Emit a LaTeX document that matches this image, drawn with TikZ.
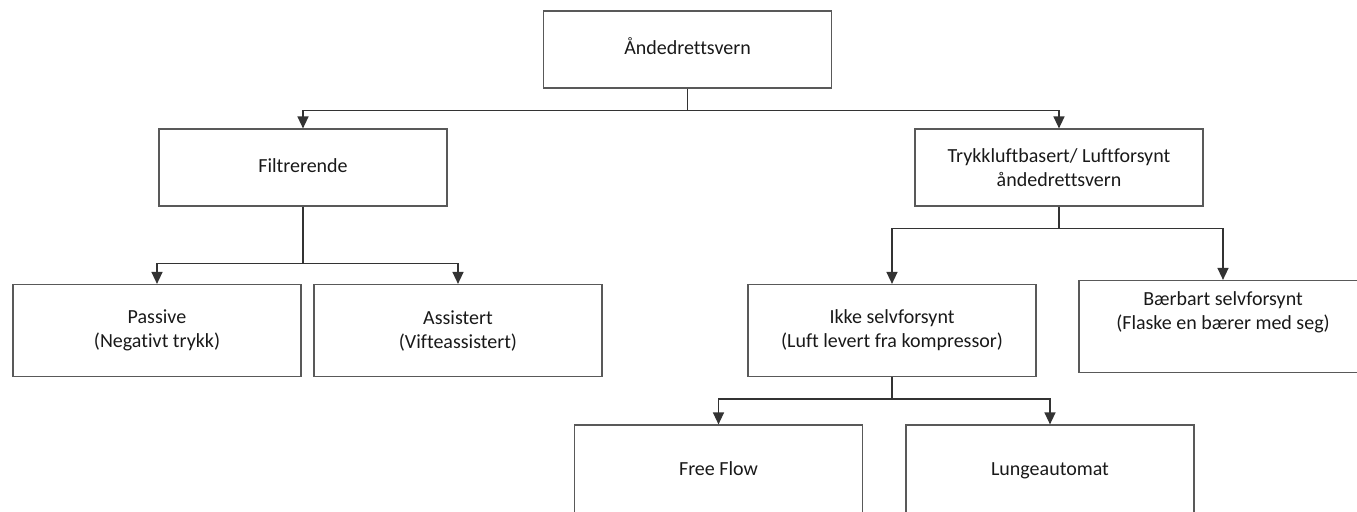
\documentclass[tikz,border=0pt]{standalone}
\usepackage{fontspec}
\setmainfont{Carlito}[Ligatures=NoCommon]
\usetikzlibrary{arrows.meta}
\begin{document}
\begin{tikzpicture}[x=0.5pt,y=-0.5pt,
  box/.style={draw=black!65,line width=0.6pt,rectangle,minimum width=144pt,minimum height=38.5pt,
    align=center,text=black!90,font=\fontsize{10}{12}\selectfont,inner sep=0pt},
  tall/.style={box,minimum height=46pt},
  conn/.style={draw=black!80,line width=0.7pt,-{Triangle[length=6pt,width=5.5pt]}}]
\clip (0,0) rectangle (1357,511);
\node[box] (top) at (687.5,49.5) {\strut Åndedrettsvern};
\node[box] (filt) at (303,167.5) {\strut Filtrerende};
\node[box] (tryk) at (1059,167.5) {Trykkluftbasert/ Luftforsynt\\åndedrettsvern};
\node[tall] (pass) at (157,330.5) {Passive\\(Negativt trykk)};
\node[tall] (assi) at (458,330.5) {Assistert\\(Vifteassistert)};
\node[tall] (ikke) at (892,330.5) {Ikke selvforsynt\\(Luft levert fra kompressor)};
\node[tall] (baer) at (1223,326.5) {Bærbart selvforsynt\\(Flaske en bærer med seg)\\\strut};
\node[tall] (free) at (718.5,471) {\strut Free Flow};
\node[tall] (lung) at (1050,471) {\strut Lungeautomat};
\draw[conn] (top.south) -- ++(0,22) -| (filt.north);
\draw[conn] (top.south) -- ++(0,22) -| (tryk.north);
\draw[conn] (filt.south) -- ++(0,57) -| (pass.north);
\draw[conn] (filt.south) -- ++(0,57) -| (assi.north);
\draw[conn] (tryk.south) -- ++(0,22) -| (ikke.north);
\draw[conn] (tryk.south) -- ++(0,22) -| (baer.north);
\draw[conn] (ikke.south) -- ++(0,22) -| (free.north);
\draw[conn] (ikke.south) -- ++(0,22) -| (lung.north);
\end{tikzpicture}
\end{document}
